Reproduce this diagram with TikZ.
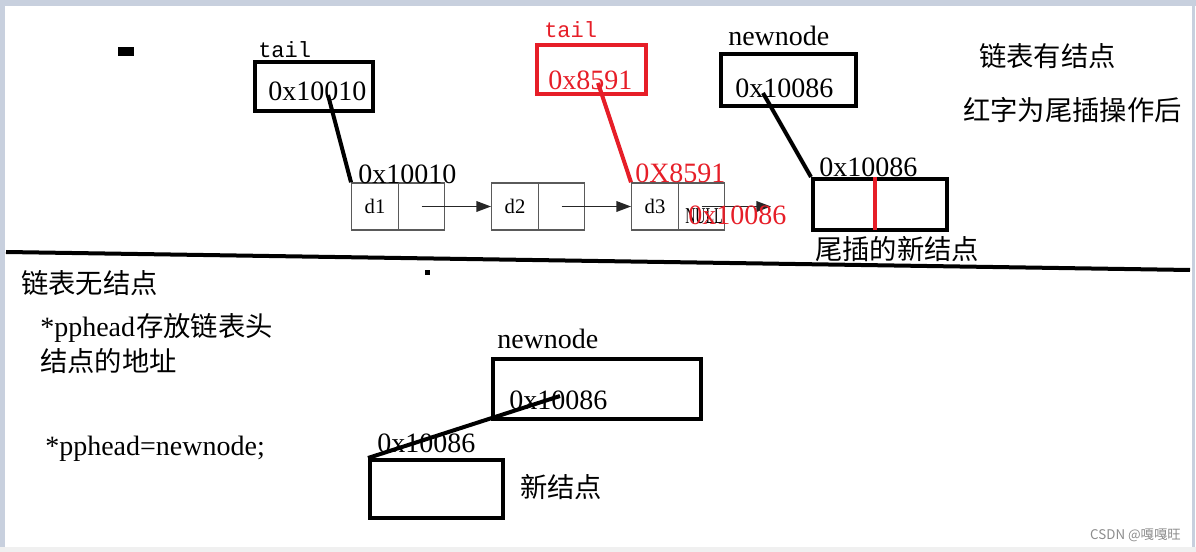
\documentclass[tikz,border=0pt]{standalone}
\usepackage{fontspec}
\usepackage{graphicx}
\setmainfont{Liberation Serif}
\newfontfamily\cjkf{Noto Sans CJK SC}
\newfontfamily\monof{Liberation Mono}
\usetikzlibrary{arrows.meta}
\definecolor{myred}{RGB}{230,30,40}
\definecolor{cellgray}{RGB}{90,90,90}
\definecolor{framecol}{RGB}{200,208,222}
\begin{document}
\begin{tikzpicture}[x=0.75pt,y=-0.75pt,
 lat/.style={font=\fontsize{21}{24}\selectfont, inner sep=0pt, anchor=base west},
 cjk/.style={font=\cjkf\fontsize{20.5}{24}\selectfont, inner sep=0pt, anchor=base west},
 mono/.style={font=\monof\fontsize{16.5}{20}\selectfont, inner sep=0pt, anchor=base west},
 thickbox/.style={draw, line width=3pt, inner sep=0pt},
 cell/.style={draw=cellgray, line width=1.1pt, minimum width=34.875pt, minimum height=35.25pt, inner sep=0pt, font=\fontsize{15.5}{18}\selectfont},
 ptr/.style={line width=3pt},
 listarrow/.style={draw=black!85, line width=1.1pt, -{Triangle[length=11pt,width=8pt]}},
]
\useasboundingbox (0,0) rectangle (1196,552);
% frame
\fill[framecol] (0,0) rectangle (1196,6);
\fill[framecol] (0,0) rectangle (5,552);
\fill[black!6] (0,547) rectangle (1196,552);
\fill[framecol] (1192,6) rectangle (1195,547);

% small marks
\fill (118,47) rectangle (134,56);
\fill (425,270) rectangle (430,275);

% ---------- upper part ----------
\node[mono] (taillbl) at (258,58) {tail};
\node[thickbox, minimum width=88.5pt, minimum height=36.75pt] (tailbox) at (314,86.5) {};
\node[lat] (tailval) at (268,101) {0x10010};

\node[mono, text=myred] (rtaillbl) at (544,38) {tail};
\node[thickbox, draw=myred, minimum width=81.75pt, minimum height=36.75pt] (rtailbox) at (591.5,69.5) {};
\node[lat, text=myred] (rtailval) at (548,90) {0x8591};

\node[lat] (nnlbl) at (728,46) {newnode};
\node[thickbox, minimum width=101.25pt, minimum height=39pt] (nnbox) at (788.5,80) {};
\node[lat] (nnval) at (735,98) {0x10086};

% list
\node[cell] (d1a) at (375,206.5) {d1};
\node[cell] (d1b) at (421.5,206.5) {};
\node[cell] (d2a) at (515,206.5) {d2};
\node[cell] (d2b) at (561.5,206.5) {};
\node[cell] (d3a) at (655,206.5) {d3};
\node[cell] (d3b) at (701.5,206.5) {};
\coordinate (nullend) at (771,206.5);
\draw[listarrow] (d1b.center) -- (d2a.west);
\draw[listarrow] (d2b.center) -- (d3a.west);
\draw[listarrow] (d3b.center) -- (nullend);

\node[lat] (addr1) at (358,184) {0x10010};
\node[lat, text=myred] (addr3) at (635,183) {0X8591};
\node[inner sep=0pt, anchor=base west, font=\fontsize{17}{20}\selectfont] (nulltxt) at (685,224) {\scalebox{0.62}[1]{NULL}};
\node[lat, text=myred] (nextnew) at (688,225) {0x10086};

% new node (top)
\node[lat] (newaddr) at (819,177) {0x10086};
\node[thickbox, minimum width=100.5pt, minimum height=38.25pt] (newtop) at (880,204.5) {};
\draw[myred, line width=3pt] ([xshift=-3.75pt]newtop.north) -- ([xshift=-3.75pt,yshift=1.5pt]newtop.south);
\node[cjk] (newtoplbl) at (815,260) {尾插的新结点};

\coordinate (tailp) at (328,95);
\coordinate (rtailp) at (598,83);
\coordinate (nnp) at (763,93);
\draw[ptr] (tailp) -- (d1a.north west);
\draw[ptr, myred] (rtailp) -- (d3a.north west);
\draw[ptr] (nnp) -- (newtop.north west);

\node[cjk] (has) at (979,67) {链表有结点};
\node[cjk] (redtip) at (963,121) {红字为尾插操作后};

% divider line
\coordinate (divl) at (6,252);
\coordinate (divr) at (1190,270);
\draw[line width=3pt] (divl) -- (divr);

% ---------- lower part ----------
\node[cjk] (none) at (21,294) {链表无结点};
\node[inner sep=0pt, anchor=base west] (pp1) at (40,336) {\fontsize{21}{24}\selectfont\makebox[72pt][l]{*pphead}\cjkf\fontsize{20.5}{24}\selectfont 存放链表头};
\node[cjk] (pp2) at (40,371) {结点的地址};
\node[lat] (assign) at (45,455) {*pphead=newnode;};

\node[lat] (nnlbl2) at (497,349) {newnode};
\node[thickbox, minimum width=156pt, minimum height=45pt] (nnbox2) at (597,389) {};
\node[lat] (nnval2) at (509,409) {0x10086};

\node[lat] (newaddr2) at (377,452) {0x10086};
\node[thickbox, minimum width=99.75pt, minimum height=43.5pt] (newbot) at (436.5,489) {};
\node[cjk] (newbotlbl) at (520,497) {新结点};

\coordinate (nnp2) at (560,396);
\draw[ptr] (nnp2) -- (newbot.north west);

% watermark
\node[inner sep=0pt, anchor=east, text=black!45, font=\cjkf\fontsize{10}{12}\selectfont] (wm) at (1181,535) {CSDN @嘎嘎旺};
\end{tikzpicture}
\end{document}
